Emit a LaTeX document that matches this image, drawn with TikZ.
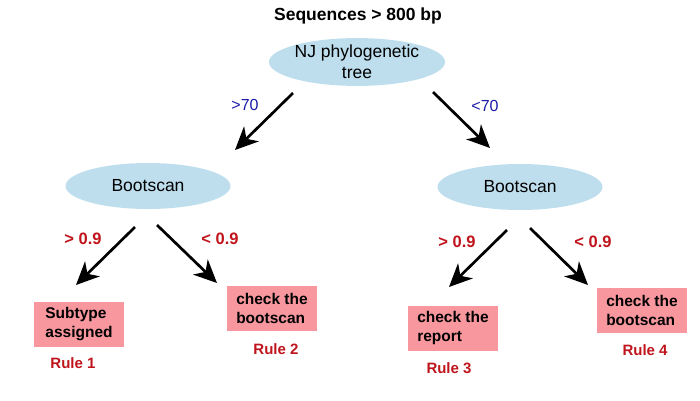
\documentclass[tikz,border=0pt]{standalone}
\usepackage{fontspec}
\setmainfont{Liberation Sans}
\usetikzlibrary{arrows.meta,shapes.geometric}
\definecolor{bubbleblue}{RGB}{190,222,238}
\definecolor{rulepink}{RGB}{248,152,158}
\definecolor{rulered}{RGB}{192,20,28}
\definecolor{branchblue}{RGB}{26,26,168}

\begin{document}
\begin{tikzpicture}[x=1pt,y=-1pt,
	bubble/.style={ellipse,fill=bubbleblue,minimum width=165pt,minimum height=46pt,inner sep=0pt,align=center,font=\fontsize{17.5}{21}\selectfont},
	decision/.style={rectangle,fill=rulepink,minimum width=90pt,minimum height=45pt,inner sep=0pt,align=left,font=\bfseries\fontsize{15.5}{19}\selectfont},
	rulelabel/.style={text=rulered,font=\bfseries\fontsize{15}{18}\selectfont},
	cutoff/.style={text=rulered,font=\bfseries\fontsize{16.5}{20}\selectfont},
	support/.style={text=branchblue,font=\fontsize{16}{19}\selectfont},
	branch/.style={line width=2.7pt,-{Stealth[length=23pt,width=21pt,inset=7pt]}}]
			%%Location
			\useasboundingbox (0,0) rectangle (700,400);
			%%Title
			\node (title) at (358,16) [font=\bfseries\fontsize{17.5}{20}\selectfont] {Sequences > 800 bp};
			%%Tree
			\node[bubble] (nj) at (357,62) {NJ phylogenetic\\tree};
			\node[bubble] (bootA) at (148,186) {Bootscan};
			\node[bubble] (bootB) at (520,187) {Bootscan};
			%%Rules
			\node[decision] (subtype) at (79,324) {Subtype\\assigned};
			\node[decision] (checkA) at (272,308) {check the\\bootscan};
			\node[decision] (report) at (453,328) {check the\\report};
			\node[decision] (checkB) at (642,310) {check the\\bootscan};
			\node[rulelabel] (ruleA) at (73,363) {Rule 1};
			\node[rulelabel] (ruleB) at (276,349) {Rule 2};
			\node[rulelabel] (ruleC) at (449,368) {Rule 3};
			\node[rulelabel] (ruleD) at (645,350) {Rule 4};
			
			%%Arrow ends
			\coordinate (njL) at (293,93);
			\coordinate (njR) at (433,92);
			\coordinate (bootAL) at (135,227);
			\coordinate (bootAR) at (157,225);
			\coordinate (bootBL) at (507,230);
			\coordinate (bootBR) at (530,228);
			\coordinate (toBootA) at (235,150);
			\coordinate (toBootB) at (490,148);
			\coordinate (toSubtype) at (76,285);
			\coordinate (toCheckA) at (217,283);
			\coordinate (toReport) at (449,287);
			\coordinate (toCheckB) at (588,285);
			
			%%Arrows
			\draw[branch] (njL) -- (toBootA);
			\draw[branch] (njR) -- (toBootB);
			\draw[branch] (bootAL) -- (toSubtype);
			\draw[branch] (bootAR) -- (toCheckA);
			\draw[branch] (bootBL) -- (toReport);
			\draw[branch] (bootBR) -- (toCheckB);
			
			%%Label
			\node[support] (gtA) at (245,105) {>70};
			\node[support] (ltA) at (485,106) {<70};
			\node[cutoff] (gtB) at (83,239) {> 0.9};
			\node[cutoff] (ltB) at (220,239) {< 0.9};
			\node[cutoff] (gtC) at (457,242) {> 0.9};
			\node[cutoff] (ltC) at (593,242) {< 0.9};
\end{tikzpicture}
\end{document}
